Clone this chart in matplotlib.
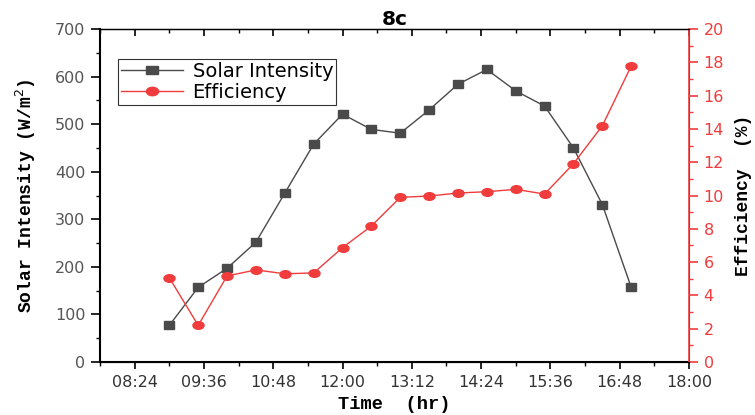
# -*- coding: utf-8 -*-
# solar intensity and efficiency vs time (8c)

import numpy as np
import pandas as pd
import matplotlib
matplotlib.use('Agg')
import matplotlib.pyplot as plt
import matplotlib.dates as mdates
from matplotlib.ticker import MultipleLocator
from matplotlib.markers import MarkerStyle
from matplotlib.transforms import Affine2D

times = ['09:00', '09:30', '10:00', '10:30', '11:00', '11:30', '12:00', '12:30', '13:00',
         '13:30', '14:00', '14:30', '15:00', '15:30', '16:00', '16:30', '17:00']
intensity = [77, 157, 197, 252, 355, 458, 521, 489, 481, 530, 584, 615, 570, 538, 450, 331, 157]
efficiency = [5.06, 2.2, 5.17, 5.53, 5.3, 5.35, 6.87, 8.17, 9.89, 9.97, 10.15, 10.23, 10.37,
              10.09, 11.91, 14.19, 17.78]

t = pd.to_datetime(['2020-01-01 ' + s for s in times])

plt.rcParams['font.family'] = ['DejaVu Sans']
grey = '#4a4a4a'
red = '#f03c3c'

# markers a bit wider than tall, like the original
sq = MarkerStyle('s', transform=Affine2D().scale(1.37, 1.0))
circ = MarkerStyle('o', transform=Affine2D().scale(1.45, 1.0))

fig = plt.figure(figsize=(7.55, 4.15), dpi=100)
ax = fig.add_axes([0.1325, 0.1277, 0.78, 0.8023])

l1, = ax.plot(t, intensity, color=grey, lw=1.0, marker=sq, markersize=5.3, label='Solar Intensity')
ax.set_ylim(0, 700)
ax.yaxis.set_major_locator(MultipleLocator(100))
ax.yaxis.set_minor_locator(MultipleLocator(50))
ax.set_xlim(pd.Timestamp('2020-01-01 07:48'), pd.Timestamp('2020-01-01 18:00'))
# major ticks every 72 min from 08:24, minor halfway
majors = pd.date_range('2020-01-01 08:24', '2020-01-01 18:00', freq='72min')
minors = pd.date_range('2020-01-01 07:48', '2020-01-01 18:00', freq='72min')
ax.set_xticks(majors)
ax.set_xticks(minors, minor=True)
ax.xaxis.set_major_formatter(mdates.DateFormatter('%H:%M'))

ax.tick_params(axis='x', which='both', direction='out', top=True, colors='black',
               labelcolor='#333333', labelsize=11.5)
ax.tick_params(axis='x', which='major', length=5, width=1.2, pad=4)
ax.tick_params(axis='x', which='minor', length=3, width=1.0)
ax.tick_params(axis='y', which='major', direction='out', length=6.5, width=1.2,
               labelcolor='#555555', labelsize=11.5, pad=4)
ax.tick_params(axis='y', which='minor', direction='out', length=3, width=1.0)
for sp in ['left', 'bottom']:
    ax.spines[sp].set_linewidth(1.5)
ax.spines['top'].set_linewidth(1.0)

ax2 = ax.twinx()
l2, = ax2.plot(t, efficiency, color=red, lw=1.0, marker=circ, markersize=5.5, label='Efficiency')
ax2.set_ylim(0, 20)
ax2.yaxis.set_major_locator(MultipleLocator(2))
ax2.yaxis.set_minor_locator(MultipleLocator(1))
ax2.tick_params(axis='y', which='major', direction='out', length=6.5, width=1.2, colors=red,
                labelsize=11.5, pad=4)
ax2.tick_params(axis='y', which='minor', direction='out', length=3, width=1.0, colors=red)
ax2.spines['right'].set_color(red)
ax2.spines['right'].set_linewidth(1.2)
ax2.spines['left'].set_visible(False)

# inward ticks on top spine
for tk in ax.xaxis.get_major_ticks() + ax.xaxis.get_minor_ticks():
    tk.tick2line.set_marker(3)

mono = ['Liberation Mono', 'DejaVu Sans Mono']
ax.set_ylabel('Solar Intensity (W/m$^2$)', family=mono, fontweight='bold', fontsize=13,
              labelpad=12)
ax.set_xlabel('Time  (hr)', family=mono, fontweight='bold', fontsize=13.5, labelpad=5)
ax2.set_ylabel('Efficiency  (%)', family=mono, fontweight='bold', fontsize=13, labelpad=8)
ax.set_title('8c', fontweight='bold', fontsize=14.5, pad=3)

leg = ax.legend(handles=[l1, l2], loc='upper left', bbox_to_anchor=(0.03, 0.91),
                fontsize=14, frameon=True, fancybox=False, edgecolor='black',
                handlelength=3.2, borderpad=0.15, labelspacing=0.1, handletextpad=0.5,
                borderaxespad=0, markerscale=1.1)
leg.get_frame().set_linewidth(0.8)

fig.savefig('out.png', dpi=100)
